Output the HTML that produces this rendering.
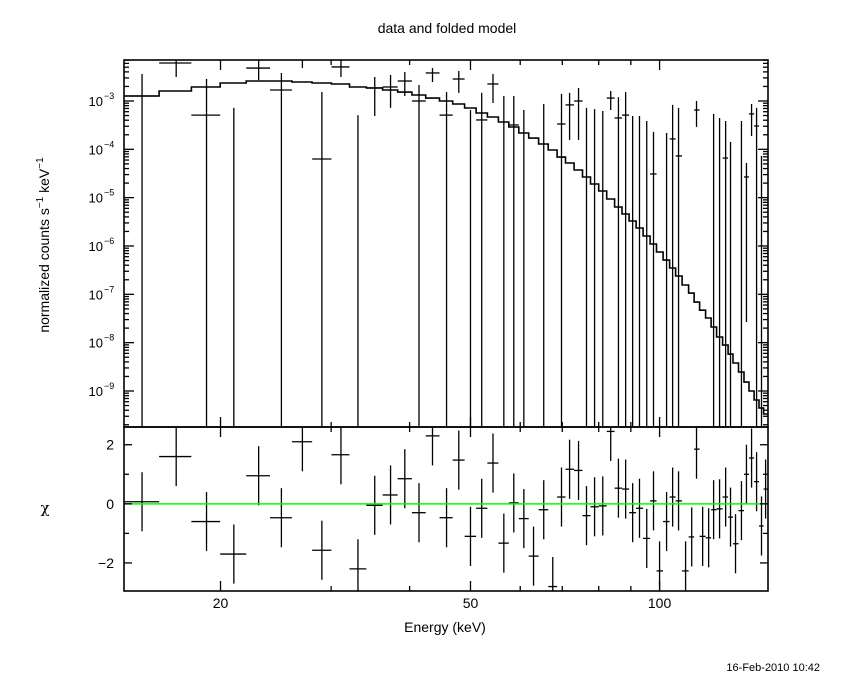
<!DOCTYPE html>
<html><head><meta charset="utf-8"><style>
html,body{margin:0;padding:0;background:#fff;}
svg{display:block;font-family:"Liberation Sans",sans-serif;}
</style></head><body>
<svg id="chart" width="850" height="680" viewBox="0 0 850 680" xmlns="http://www.w3.org/2000/svg">
<rect width="850" height="680" fill="#fff"/>
<text x="447" y="33" text-anchor="middle" font-size="14">data and folded model</text>
<text x="445" y="632" text-anchor="middle" font-size="14">Energy (keV)</text>
<text transform="translate(49,245) rotate(-90)" text-anchor="middle" font-size="14">normalized counts s<tspan dy="-6" font-size="10">−1</tspan><tspan dy="6"> keV</tspan><tspan dy="-6" font-size="10">−1</tspan></text>
<text x="45" y="513" text-anchor="middle" font-size="15" font-family="'DejaVu Serif',serif">χ</text>
<text x="820" y="671" text-anchor="end" font-size="11">16-Feb-2010 10:42</text>
<defs>
<clipPath id="clipTop"><rect x="124" y="60" width="644" height="367"/></clipPath>
<clipPath id="clipBot"><rect x="124" y="427" width="644" height="164"/></clipPath>
</defs>
<g id="topPanel" clip-path="url(#clipTop)"></g>
<g id="botPanel" clip-path="url(#clipBot)"></g>
<g id="axes"></g>
</svg>
<script>
const energies=[15.0,17.0,19.0,21.0,23.0,25.0,27.0,29.0,31.1,33.1,35.2,37.3,39.3,41.4,43.5,45.8,47.9,50.0,52.1,54.3,56.5,58.6,60.8,63.0,65.4,67.6,69.8,71.9,74.3,76.5,78.8,81.2,83.6,86.0,88.3,90.6,92.9,95.4,97.8,100,102.6,104.9,107.2,110.0,112.5,114.5,117.1,119.7,121.9,124.6,127.4,129.7,132.1,135.0,137.5,140.1,142.7,145.3,147.5];
const modelVals=[1.27e-3,1.61e-3,1.95e-3,2.36e-3,2.59e-3,2.59e-3,2.47e-3,2.36e-3,2.25e-3,1.95e-3,1.86e-3,1.69e-3,1.53e-3,1.33e-3,1.15e-3,1.0e-3,8.67e-4,7.16e-4,5.65e-4,4.67e-4,3.68e-4,2.90e-4,2.18e-4,1.71e-4,1.29e-4,9.7e-5,6.9e-5,5.2e-5,3.73e-5,2.68e-5,1.92e-5,1.37e-5,9.4e-6,6.4e-6,4.6e-6,3.29e-6,2.36e-6,1.61e-6,1.10e-6,7.5e-7,5.1e-7,3.5e-7,2.39e-7,1.56e-7,1.06e-7,6.9e-8,4.7e-8,3.24e-8,2.11e-8,1.31e-8,8.9e-9,5.8e-9,3.8e-9,2.47e-9,1.53e-9,1.0e-9,6.5e-10,4.45e-10,3.34e-10];
const dataVals=[1.27e-3,6.1e-3,5.1e-4,null,4.8e-3,1.69e-3,9e-3,6.3e-5,5.06e-3,null,1.86e-3,1.95e-3,2.59e-3,1.0e-3,3.8e-3,5.1e-4,2.85e-3,null,4.05e-4,2.25e-3,null,3.19e-4,null,null,null,null,3.34e-4,8.3e-4,1.0e-3,null,null,null,1.15e-3,4.45e-4,5.1e-4,null,null,null,3.09e-5,null,null,1.64e-4,7.3e-5,null,null,6.5e-4,null,null,null,null,6.6e-5,null,null,null,2.68e-5,5.4e-4,3.04e-4,null,null];
const dataHi=[3.62e-3,7.0e-3,2.85e-3,7.2e-4,7.0e-3,3.8e-3,1.2e-2,1.53e-3,7.0e-3,5.1e-4,3.14e-3,3.45e-3,3.98e-3,2.14e-3,4.8e-3,1.53e-3,4.18e-3,6.5e-4,1.47e-3,3.62e-3,1.27e-3,1.27e-3,6.5e-4,null,8.67e-4,null,1.40e-3,1.47e-3,1.86e-3,7.2e-4,6.8e-4,6.2e-4,1.61e-3,1.2e-3,1.53e-3,4.9e-4,4.9e-4,3.85e-4,2.29e-4,null,2.18e-4,8.3e-4,7.2e-4,null,null,1.0e-3,null,null,5.4e-4,4.45e-4,3.85e-4,1.42e-4,null,3.85e-4,5.2e-5,8.67e-4,7.2e-4,7.3e-5,null];
const dataLo=[null,3.14e-3,null,null,2.7e-3,null,4.8e-3,null,3.14e-3,null,4.9e-4,7.2e-4,1.27e-3,null,2.47e-3,null,1.47e-3,null,null,9.1e-4,null,null,null,null,null,null,null,1.56e-4,1.56e-4,null,null,null,6.5e-4,null,null,null,null,null,null,null,null,null,null,null,null,2.9e-4,null,null,null,null,null,null,null,null,2.67e-8,1.89e-4,null,null,null];
const chiVals=[0.07,1.6,-0.6,-1.7,0.95,-0.47,2.1,-1.57,1.66,-2.2,-0.05,0.3,0.85,-0.3,2.3,-0.47,1.48,-1.1,-0.15,1.38,-1.33,0.03,-0.5,-1.77,-0.2,-2.8,0.23,1.17,1.13,-0.4,-0.1,-0.07,2.45,0.53,0.5,-0.3,-0.15,-1.17,0.1,-2.27,-0.6,0.23,0.1,-2.27,-1.12,1.85,-1.1,-1.15,-0.2,-0.17,0.23,-0.45,-1.35,-0.23,1.0,1.55,0.75,-0.75,0.5];
const chiErr=[1,1,1,1,1,1,1,1,1,1,1,1,1,1,1,1,1,1,1,1,1,1,1,1,1,1,1,1,1,1,1,1,1,1,1,1,1,1,1,1,1,1,1,1,1,1,1,1,1,1,1,1,1,1,1,1,1,1,1];
const xTickMajor=[20,50,100];
const xTickMinor=[30,40,60,70,80,90];
const yTopDecades=[-3,-4,-5,-6,-7,-8,-9];
const yBotLabels=[2,0,-2];

const NS="http://www.w3.org/2000/svg";
const X0=124,X1=768,YT0=60,YT1=427,YB0=427,YB1=591;
const EMIN=14.04,EMAX=148.8,LMAX=-2.152,LMIN=-9.745,CMAX=2.6,CMIN=-2.95;
function xs(e){return X0+(Math.log10(e)-Math.log10(EMIN))/(Math.log10(EMAX)-Math.log10(EMIN))*(X1-X0);}
function yt(v){return YT0+(LMAX-Math.log10(v))/(LMAX-LMIN)*(YT1-YT0);}
function yb(c){return YB0+(CMAX-c)/(CMAX-CMIN)*(YB1-YB0);}
function mk(tag,attrs,parent){const el=document.createElementNS(NS,tag);for(const k in attrs)el.setAttribute(k,attrs[k]);parent.appendChild(el);return el;}
const topG=document.getElementById('topPanel'),botG=document.getElementById('botPanel'),axes=document.getElementById('axes');
const edges=[EMIN];
for(let i=0;i<energies.length-1;i++)edges.push(Math.sqrt(energies[i]*energies[i+1]));
edges.push(EMAX);
let d='';
for(let i=0;i<modelVals.length;i++){const y=yt(modelVals[i]);d+=(i===0?'M':'L')+xs(edges[i]).toFixed(1)+','+y.toFixed(1)+'L'+xs(edges[i+1]).toFixed(1)+','+y.toFixed(1);}
const mp=mk('path',{d:d,fill:'none',stroke:'#000','stroke-width':1.6},topG);


for(let i=0;i<energies.length;i++){
  const g=mk('g',{stroke:'#000','stroke-width':1.3},topG);
  
  
  if(dataVals[i]!==null){const y=yt(dataVals[i]);mk('line',{x1:xs(edges[i]),x2:xs(edges[i+1]),y1:y,y2:y},g);}
  if(dataHi[i]!==null){const x=xs(energies[i]);const y2=dataLo[i]===null?YT1+5:yt(dataLo[i]);mk('line',{x1:x,x2:x,y1:yt(dataHi[i]),y2:y2},g);}
}
for(let i=0;i<energies.length;i++){
  const g=mk('g',{stroke:'#000','stroke-width':1.3},botG);
  
  
  const y=yb(chiVals[i]);
  mk('line',{x1:xs(edges[i]),x2:xs(edges[i+1]),y1:y,y2:y},g);
  const x=xs(energies[i]);
  mk('line',{x1:x,x2:x,y1:yb(chiVals[i]+chiErr[i]),y2:yb(chiVals[i]-chiErr[i])},g);
}
const zl=mk('line',{x1:X0,x2:X1,y1:yb(0),y2:yb(0),stroke:'#00ff00','stroke-width':1.5},botG);


const f1=mk('rect',{x:X0,y:YT0,width:X1-X0,height:YT1-YT0,fill:'none',stroke:'#000','stroke-width':1.6},axes);


const f2=mk('rect',{x:X0,y:YB0,width:X1-X0,height:YB1-YB0,fill:'none',stroke:'#000','stroke-width':1.6},axes);


function xtick(e,len){const x=xs(e);
  for(const [a,b] of [[YT0,YT0+len],[YT1,YT1-len],[YB0,YB0+len],[YB1,YB1-len]]){
    const t=mk('line',{x1:x,x2:x,y1:a,y2:b,stroke:'#000','stroke-width':1.3},axes);
    
    }}
xTickMajor.forEach(e=>{xtick(e,10);const t=mk('text',{x:xs(e),y:608,'text-anchor':'middle','font-size':14},axes);t.textContent=String(e);
  
  });
xTickMinor.forEach(e=>xtick(e,5));
function ytick(y,len){for(const [a,b] of [[X0,X0+len],[X1,X1-len]]){
  const t=mk('line',{x1:a,x2:b,y1:y,y2:y,stroke:'#000','stroke-width':1.3},axes);
  
  }}
for(let p=-10;p<=-3;p++){for(let m=1;m<=9;m++){const v=m*Math.pow(10,p);const L=Math.log10(v);if(L<LMIN||L>LMAX)continue;ytick(yt(v),m===1?10:5);}}
yTopDecades.forEach(p=>{const y=yt(Math.pow(10,p));
  const t=mk('text',{x:103,y:y+5,'text-anchor':'end','font-size':13},axes);t.textContent='10';
  
  
  const s=mk('text',{x:104,y:y-2,'text-anchor':'start','font-size':9},axes);s.textContent='−'+(-p);
  
  });
for(let c=-2;c<=2;c++)ytick(yb(c),c%2===0?8:5);
yBotLabels.forEach(c=>{const t=mk('text',{x:114,y:yb(c)+5,'text-anchor':'end','font-size':14},axes);t.textContent=c<0?'−'+(-c):String(c);
  
  });
</script>
</body></html>
